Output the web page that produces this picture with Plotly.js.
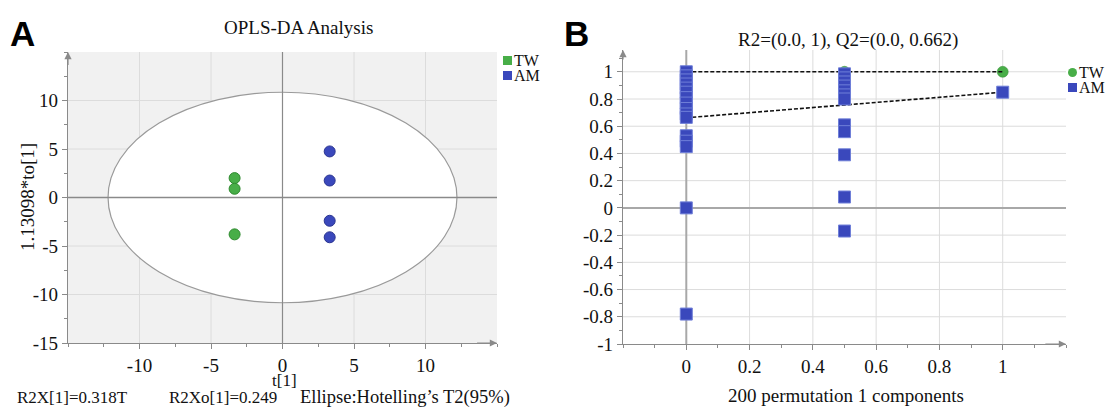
<!DOCTYPE html>
<html>
<head>
<meta charset="utf-8">
<script src="https://cdn.plot.ly/plotly-3.0.1.min.js"></script>
<style>
html,body{margin:0;padding:0;background:#fff;}
#chart{width:1112px;height:408px;}
</style>
</head>
<body>
<div id="chart"></div>
<script>
// ---- Panel A: OPLS-DA scores ----
const groups = ["TW", "AM"];
const tw_t  = [-3.35, -3.35, -3.35];
const tw_to = [2.0, 0.9, -3.8];
const am_t  = [3.3, 3.3, 3.3, 3.3];
const am_to = [4.75, 1.75, -2.4, -4.1];
const ellipse_t  = [-12.2, 12.2];   // Hotelling's T2 (95%) semi-axes
const ellipse_to = [-10.85, 10.85];
const a_range = [-15, 15];
const a_xticks = [-10, -5, 0, 5, 10];
const a_xlabels = ["-10", "-5", "0", "5", "10"];
const a_yticks = [-15, -10, -5, 0, 5, 10];
const a_ylabels = ["-15", "-10", "-5", "0", "5", "10"];
const a_footnote = ["R2X[1]=0.318T", "R2Xo[1]=0.249", "Ellipse:Hotelling’s T2(95%)"];

// ---- Panel B: permutation test ----
const r2_x = [0, 0, 0.5, 1];
const r2_y = [1.0, 1.0, 1.0, 1.0];
const q2_x = [0,0,0,0,0,0,0,0,0,0,0,0,0,0,0,0,
              0.5,0.5,0.5,0.5,0.5,0.5,0.5,0.5,0.5,0.5,0.5,0.5,
              1];
const q2_y = [1.0,0.97,0.94,0.91,0.88,0.85,0.81,0.77,0.73,0.69,0.665,0.53,0.49,0.45,0.0,-0.78,
              0.985,0.955,0.925,0.895,0.86,0.83,0.8,0.61,0.56,0.39,0.08,-0.17,
              0.85];
const r2_line_x = [0, 1], r2_line_y = [1.0, 1.0];
const q2_line_x = [0, 1], q2_line_y = [0.662, 0.85];
const b_xrange = [-0.2, 1.2], b_yrange = [-1, 1.16];
const b_xticks = [0, 0.2, 0.4, 0.6, 0.8, 1];
const b_xlabels = ["0", "0.2", "0.4", "0.6", "0.8", "1"];
const b_yticks = [-1, -0.8, -0.6, -0.4, -0.2, 0, 0.2, 0.4, 0.6, 0.8, 1];
const b_ylabels = ["-1", "-0.8", "-0.6", "-0.4", "-0.2", "0", "0.2", "0.4", "0.6", "0.8", "1"];

const GREEN = "#48ae48", GREEN_L = "#2f8a2f";
const BLUE = "#3a48bc", BLUE_L = "#6f7fd8";
const SERIF = "Liberation Serif";
const AX = "#8a8a8a", GRID = "#dcdcdc";

const traces = [
  {x:tw_t, y:tw_to, xaxis:"x", yaxis:"y", type:"scatter", mode:"markers", name:groups[0],
   marker:{symbol:"circle", size:11, color:GREEN, line:{color:GREEN_L, width:1}}},
  {x:am_t, y:am_to, xaxis:"x", yaxis:"y", type:"scatter", mode:"markers", name:groups[1],
   marker:{symbol:"circle", size:11, color:BLUE, line:{color:"#2a3490", width:1}}},
  {x:r2_x, y:r2_y, xaxis:"x2", yaxis:"y2", type:"scatter", mode:"markers", name:groups[0],
   marker:{symbol:"circle", size:11, color:GREEN, line:{color:GREEN_L, width:0.5}}},
  {x:r2_line_x, y:r2_line_y, xaxis:"x2", yaxis:"y2", type:"scatter", mode:"lines",
   line:{color:"#111", width:1.6, dash:"4px,2px"}},
  {x:q2_line_x, y:q2_line_y, xaxis:"x2", yaxis:"y2", type:"scatter", mode:"lines",
   line:{color:"#111", width:1.6, dash:"4px,2px"}},
  {x:q2_x, y:q2_y, xaxis:"x2", yaxis:"y2", type:"scatter", mode:"markers", name:groups[1],
   marker:{symbol:"square", size:12, color:BLUE, line:{color:BLUE_L, width:1}}}
];

function axisBase(extra){
  return Object.assign({
    showgrid:false, zeroline:false,
    showline:true, linecolor:AX, linewidth:1.2,
    ticks:"outside", ticklen:5, tickcolor:AX,
    tickfont:{family:SERIF, size:19, color:"#111"},
    tickmode:"array", fixedrange:true
  }, extra);
}

// gridlines at the tick values, drawn with the axes' own scales
function gridLines(xr, yr, xs, ys, xticks, yticks){
  const out = [];
  xticks.forEach(v => out.push({type:"line", xref:xs, yref:ys, x0:v, x1:v, y0:yr[0], y1:yr[1],
    line:{color:GRID, width:1}, layer:"between"}));
  yticks.forEach(v => out.push({type:"line", xref:xs, yref:ys, x0:xr[0], x1:xr[1], y0:v, y1:v,
    line:{color:GRID, width:1}, layer:"between"}));
  return out;
}

const P = (px) => px/1112, Q = (py) => 1 - py/408;
const txt = (text, x, y, opts) => Object.assign({text:text, xref:"paper", yref:"paper", x:P(x), y:Q(y),
  xanchor:"center", yanchor:"middle", showarrow:false, font:{family:SERIF, size:19, color:"#111"}}, opts||{});
const F = (size) => ({family:SERIF, size:size, color:"#111"});

const shapes = [].concat(
  [{type:"rect", xref:"paper", yref:"paper", x0:P(68), x1:P(497), y0:Q(343), y1:Q(52),
    fillcolor:"#f1f1f1", line:{width:0}, layer:"below"}],
  gridLines(a_range, a_range, "x", "y", a_xticks, a_yticks.slice(1)),
  [{type:"circle", xref:"x", yref:"y", x0:ellipse_t[0], x1:ellipse_t[1], y0:ellipse_to[0], y1:ellipse_to[1],
    fillcolor:"#ffffff", line:{color:"#9a9a9a", width:1.2}, layer:"between"},
   {type:"line", xref:"x", yref:"y", x0:0, x1:0, y0:a_range[0], y1:a_range[1], line:{color:AX, width:1.2}, layer:"between"},
   {type:"line", xref:"x", yref:"y", x0:a_range[0], x1:a_range[1], y0:0, y1:0, line:{color:AX, width:1.5}, layer:"between"}],
  gridLines(b_xrange, b_yrange, "x2", "y2", b_xticks.slice(1), b_yticks.slice(1)),
  [{type:"line", xref:"x2", yref:"y2", x0:0, x1:0, y0:b_yrange[0], y1:b_yrange[1], line:{color:"#a8a8a8", width:2}, layer:"between"},
   {type:"line", xref:"x2", yref:"y2", x0:b_xrange[0], x1:b_xrange[1], y0:0, y1:0, line:{color:"#a8a8a8", width:2}, layer:"between"},
   // legend swatches
   {type:"rect", xref:"paper", yref:"paper", x0:P(503), x1:P(512), y0:Q(65), y1:Q(56), fillcolor:GREEN, line:{width:0}},
   {type:"rect", xref:"paper", yref:"paper", x0:P(503), x1:P(512), y0:Q(80), y1:Q(71), fillcolor:BLUE, line:{width:0}},
   {type:"circle", xref:"paper", yref:"paper", x0:P(1068), x1:P(1077), y0:Q(77), y1:Q(68), fillcolor:GREEN, line:{width:0}},
   {type:"rect", xref:"paper", yref:"paper", x0:P(1068), x1:P(1077), y0:Q(92), y1:Q(83), fillcolor:BLUE, line:{width:0}}]
);

const layout = {
  width:1112, height:408,
  margin:{l:0, r:0, t:0, b:0},
  showlegend:false,
  paper_bgcolor:"#fff", plot_bgcolor:"rgba(0,0,0,0)",
  font:{family:SERIF, color:"#111"},
  xaxis: axisBase({domain:[P(68), P(497)], range:a_range, anchor:"y",
    tickvals:a_xticks, ticktext:a_xlabels,
    minor:{dtick:2.5, ticks:"outside", ticklen:3, tickcolor:AX, showgrid:false}}),
  yaxis: axisBase({domain:[Q(343), Q(52)], range:a_range, anchor:"x",
    tickvals:a_yticks, ticktext:a_ylabels,
    minor:{dtick:2.5, ticks:"outside", ticklen:3, tickcolor:AX, showgrid:false}}),
  xaxis2: axisBase({domain:[P(623), P(1066)], range:b_xrange, anchor:"y2",
    tickvals:b_xticks, ticktext:b_xlabels,
    minor:{dtick:0.1, ticks:"outside", ticklen:3, tickcolor:AX, showgrid:false}}),
  yaxis2: axisBase({domain:[Q(344), Q(50)], range:b_yrange, anchor:"x2",
    tickvals:b_yticks, ticktext:b_ylabels,
    minor:{dtick:0.1, ticks:"outside", ticklen:3, tickcolor:AX, showgrid:false}}),
  shapes: shapes,
  annotations:[
    txt("<b>A</b>", 8, 33, {xanchor:"left", font:{family:"Liberation Sans", size:35, color:"#000"}}),
    txt("<b>B</b>", 562, 33, {xanchor:"left", font:{family:"Liberation Sans", size:35, color:"#000"}}),
    txt("OPLS-DA Analysis", 298, 28),
    txt("R2=(0.0, 1), Q2=(0.0, 0.662)", 848, 40),
    txt("t[1]", 284, 380, {font:F(17)}),
    txt("1.13098*to[1]", 27, 197, {textangle:-90}),
    txt(a_footnote[0], 15, 397, {xanchor:"left", font:F(17)}),
    txt(a_footnote[1], 167, 397, {xanchor:"left", font:F(17)}),
    txt(a_footnote[2], 298, 397, {xanchor:"left", font:F(18.5)}),
    txt("200 permutation 1 components", 846, 395),
    txt(groups[0], 512, 60, {xanchor:"left", font:F(16)}),
    txt(groups[1], 512, 75, {xanchor:"left", font:F(16)}),
    txt(groups[0], 1077, 72, {xanchor:"left", font:F(16)}),
    txt(groups[1], 1077, 87, {xanchor:"left", font:F(16)}),
    {x:a_range[0], y:a_range[1], ax:a_range[0], ay:13.5, xref:"x", yref:"y", axref:"x", ayref:"y", text:"", showarrow:true,
     arrowhead:2, arrowsize:1.2, arrowwidth:1.2, arrowcolor:AX},
    {x:a_range[1], y:a_range[0], ax:13.5, ay:a_range[0], xref:"x", yref:"y", axref:"x", ayref:"y", text:"", showarrow:true,
     arrowhead:2, arrowsize:1.2, arrowwidth:1.2, arrowcolor:AX},
    {x:b_xrange[0], y:b_yrange[1], ax:b_xrange[0], ay:1.08, xref:"x2", yref:"y2", axref:"x2", ayref:"y2", text:"", showarrow:true,
     arrowhead:2, arrowsize:1.2, arrowwidth:1.2, arrowcolor:AX},
    {x:b_xrange[1], y:b_yrange[0], ax:1.13, ay:b_yrange[0], xref:"x2", yref:"y2", axref:"x2", ayref:"y2", text:"", showarrow:true,
     arrowhead:2, arrowsize:1.2, arrowwidth:1.2, arrowcolor:AX}
  ]
};

Plotly.newPlot("chart", traces, layout, {displayModeBar:false, staticPlot:true});
</script>
</body>
</html>
